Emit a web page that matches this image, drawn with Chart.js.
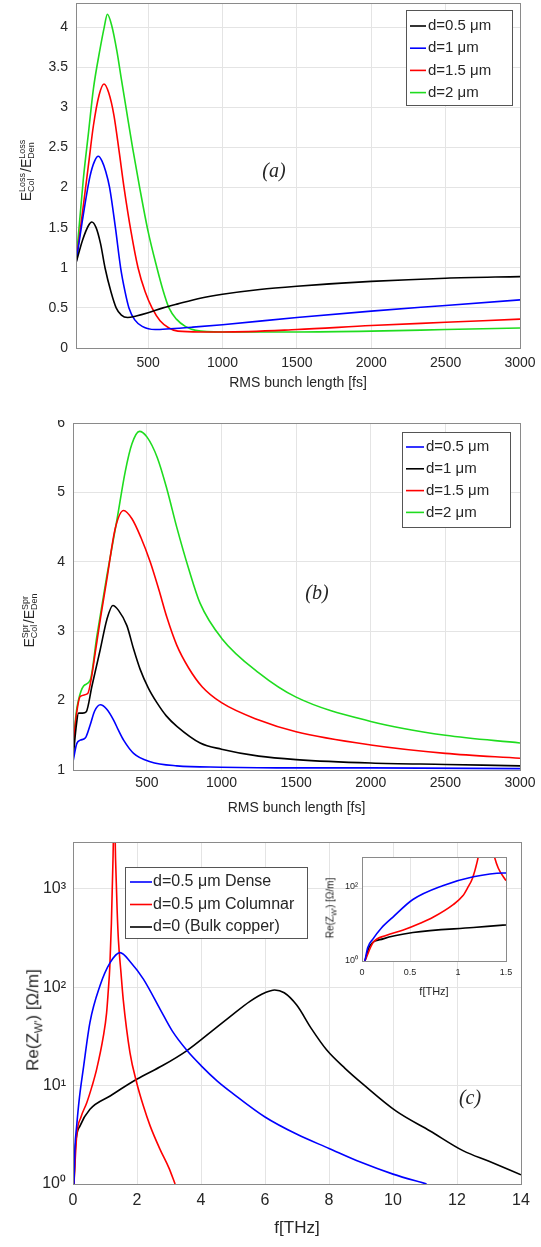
<!DOCTYPE html>
<html>
<head>
<meta charset="utf-8">
<script src="https://cdn.jsdelivr.net/npm/chart.js@4.4.0/dist/chart.umd.min.js"></script>
<style>
  body { margin: 0; background: #fff; width: 541px; height: 1247px; position: relative; overflow: hidden;
         font-family: "Liberation Sans", Arial, sans-serif; color: #262626; }
  canvas { position: absolute; left: 0; }
  .lbl { position: absolute; white-space: nowrap; transform: translate(-50%, -50%); }
  .rot { transform: translate(-50%, -50%) rotate(-90deg); }
  .ss { display: inline-flex; flex-direction: column; vertical-align: middle; font-size: 9px; line-height: 9px; margin-right: 1px; }
  .tag { font-family: "Liberation Serif", "Times New Roman", serif; font-style: italic; font-size: 20px; }
</style>
</head>
<body>
<canvas id="chartA" width="541" height="400" style="top:0"></canvas>
<canvas id="chartB" width="541" height="410" style="top:420px"></canvas>
<canvas id="chartC" width="541" height="417" style="top:830px"></canvas>
<canvas id="chartInset" width="196" height="160" style="left:325px; top:845px"></canvas>

<div class="lbl rot" style="left:27px; top:170px; font-size:14px">E<span class="ss"><span>Loss</span><span>Col</span></span>/E<span class="ss"><span>Loss</span><span>Den</span></span></div>
<div class="lbl rot" style="left:30px; top:620px; font-size:14px">E<span class="ss"><span>Spr</span><span>Col</span></span>/E<span class="ss"><span>Spr</span><span>Den</span></span></div>
<div class="lbl rot" style="left:34px; top:1020px; font-size:17px">Re(Z<sub style="font-size:11px">W'</sub>) [Ω/m]</div>
<div class="lbl rot" style="left:331px; top:908px; font-size:10px">Re(Z<sub style="font-size:7px">W'</sub>) [Ω/m]</div>
<div class="lbl tag" style="left:274px; top:170px">(a)</div>
<div class="lbl tag" style="left:317px; top:592px">(b)</div>
<div class="lbl tag" style="left:470px; top:1097px">(c)</div>

<script>
// ---- panel (a): loss ratio vs RMS bunch length [fs]
const aXTicks = [500, 1000, 1500, 2000, 2500, 3000];
const aYTicks = [0, 0.5, 1, 1.5, 2, 2.5, 3, 3.5, 4];
const aLabels = ['d=0.5 μm', 'd=1 μm', 'd=1.5 μm', 'd=2 μm'];

const aBlackX = [15, 60, 100, 121, 150, 180, 210, 250, 285, 320, 362, 420, 500, 600, 700, 850, 1000, 1250, 1500, 2000, 2500, 3000];
const aBlackY = [1.06, 1.35, 1.53, 1.57, 1.5, 1.3, 1.0, 0.7, 0.5, 0.41, 0.38, 0.4, 0.44, 0.5, 0.55, 0.62, 0.67, 0.73, 0.77, 0.83, 0.87, 0.89];
const aBlueX = [15, 64, 109, 140, 165, 190, 215, 241, 280, 315, 345, 371, 410, 460, 547, 650, 800, 1000, 1500, 2000, 2500, 3000];
const aBlueY = [1.06, 1.66, 2.14, 2.33, 2.39, 2.33, 2.2, 2.0, 1.5, 1.0, 0.7, 0.5, 0.35, 0.27, 0.23, 0.24, 0.26, 0.29, 0.38, 0.46, 0.53, 0.6];
const aRedX = [15, 64, 100, 132, 170, 203, 235, 270, 305, 338, 385, 432, 480, 526, 580, 640, 700, 850, 1000, 1500, 2000, 2500, 3000];
const aRedY = [1.06, 1.77, 2.3, 2.77, 3.15, 3.29, 3.18, 2.9, 2.45, 2.0, 1.45, 1.0, 0.7, 0.5, 0.34, 0.25, 0.21, 0.2, 0.2, 0.23, 0.28, 0.32, 0.36];
const aGreenX = [15, 64, 100, 132, 177, 205, 226, 255, 290, 320, 351, 395, 443, 500, 559, 600, 640, 690, 750, 820, 1000, 1500, 2000, 2500, 3000];
const aGreenY = [1.06, 2.1, 2.7, 3.23, 3.73, 4.0, 4.16, 4.02, 3.7, 3.35, 3.0, 2.5, 2.0, 1.45, 1.0, 0.72, 0.5, 0.36, 0.27, 0.22, 0.2, 0.2, 0.21, 0.23, 0.25];

// ---- panel (b): spread ratio vs RMS bunch length [fs]
const bYTicks = [1, 2, 3, 4, 5, 6];
const bLabels = ['d=0.5 μm', 'd=1 μm', 'd=1.5 μm', 'd=2 μm'];

const bBlueX = [5, 30, 54, 87, 120, 150, 188, 230, 277, 310, 344, 411, 522, 700, 1000, 1500, 2000, 3000];
const bBlueY = [1.12, 1.38, 1.43, 1.46, 1.65, 1.85, 1.94, 1.88, 1.72, 1.57, 1.43, 1.24, 1.12, 1.06, 1.04, 1.03, 1.03, 1.02];
const bBlackX = [5, 25, 42, 70, 94, 132, 188, 232, 272, 310, 366, 410, 455, 510, 567, 630, 701, 857, 1000, 1250, 1500, 2000, 2500, 3000];
const bBlackY = [1.15, 1.6, 1.82, 1.82, 1.84, 2.21, 2.74, 3.17, 3.37, 3.3, 3.08, 2.75, 2.45, 2.18, 1.97, 1.78, 1.63, 1.39, 1.3, 1.2, 1.15, 1.1, 1.08, 1.06];
const bRedX = [5, 25, 54, 103, 130, 154, 190, 232, 288, 344, 400, 460, 522, 580, 634, 700, 780, 870, 1000, 1250, 1500, 2000, 2500, 3000];
const bRedY = [1.3, 1.75, 2.06, 2.1, 2.35, 2.69, 3.2, 3.75, 4.48, 4.74, 4.62, 4.35, 4.0, 3.6, 3.2, 2.8, 2.47, 2.2, 1.97, 1.72, 1.55, 1.36, 1.24, 1.17];
const bGreenX = [5, 25, 42, 76, 121, 165, 232, 299, 355, 400, 450, 500, 570, 634, 700, 780, 857, 1000, 1250, 1500, 2000, 2500, 3000];
const bGreenY = [1.29, 1.8, 2.01, 2.21, 2.3, 2.93, 3.8, 4.6, 5.3, 5.7, 5.88, 5.8, 5.5, 5.05, 4.5, 3.9, 3.4, 2.9, 2.4, 2.05, 1.7, 1.5, 1.39];

// ---- panel (c): Re(Z) vs frequency [THz], log y
const cXTicks = [0, 2, 4, 6, 8, 10, 12, 14];
const cYTicks = [1, 10, 100, 1000];
const cLabels = ['d=0.5 μm Dense', 'd=0.5 μm Columnar', 'd=0 (Bulk copper)'];

const cBlueX = [0.03, 0.06, 0.115, 0.2, 0.32, 0.53, 0.84, 1.16, 1.47, 1.8, 2.2, 2.72, 3.1, 3.55, 4.0, 4.5, 5.0, 6.0, 7.0, 8.0, 9.0, 10.0, 11.05];
const cBlueY = [1, 2.3, 3.9, 7.5, 14.7, 44, 103, 178, 225, 180, 121, 60, 36, 23, 16, 11.2, 8.3, 4.8, 3.2, 2.3, 1.66, 1.26, 1.0];
const cRedX = [0.03, 0.115, 0.25, 0.43, 0.6, 0.74, 0.95, 1.05, 1.1, 1.15, 1.2, 1.25, 1.29, 1.33, 1.38, 1.42, 1.5, 1.57, 1.78, 1.99, 2.2, 2.41, 2.72, 3.0, 3.19];
const cRedY = [1, 3.1, 4.8, 6.7, 10, 14.7, 32, 55, 90, 160, 450, 2000, 8000, 2000, 600, 300, 140, 75, 21.7, 10.7, 6.2, 3.9, 2.25, 1.45, 1.0];
const cBlackX = [0.03, 0.08, 0.22, 0.53, 1.16, 1.99, 2.8, 3.55, 4.3, 4.9, 5.53, 6.0, 6.3, 6.6, 6.99, 7.45, 7.93, 8.5, 9.07, 10.1, 11.16, 12.2, 13.0, 14.0];
const cBlackY = [1, 2.5, 3.9, 5.75, 7.85, 11.6, 16, 22.6, 35, 50, 72, 88, 94, 88, 66, 38, 23, 15, 10.3, 5.5, 3.46, 2.17, 1.7, 1.24];

// inset
const insetXTicks = [0, 0.5, 1, 1.5];
const insetYTicks = [1, 100];

const TXT = '#262626';
const GRID = '#e4e4e4';
const BLACK = '#000000', BLUE = '#0000ff', RED = '#ff0000', GREEN = '#1fdc1f';
const SUP = { 0: '⁰', 1: '¹', 2: '²', 3: '³' };

const pts = (xs, ys) => xs.map((x, i) => ({ x: x, y: ys[i] }));
const line = (label, color, xs, ys) => ({
  label: label, data: pts(xs, ys), borderColor: color, borderWidth: 1.6,
  pointRadius: 0, cubicInterpolationMode: 'monotone', fill: false
});

// box round the plot area (MATLAB "box on"), optional white fill for the inset
const frame = {
  id: 'frame',
  beforeDraw(chart, args, opts) {
    if (!opts.fill) return;
    const a = chart.chartArea;
    chart.ctx.save();
    chart.ctx.fillStyle = '#fff';
    chart.ctx.fillRect(a.left, a.top, a.right - a.left, a.bottom - a.top);
    chart.ctx.restore();
  },
  afterDatasetsDraw(chart) {
    const a = chart.chartArea, ctx = chart.ctx;
    ctx.save();
    ctx.strokeStyle = '#8a8a8a';
    ctx.lineWidth = 1;
    ctx.strokeRect(Math.round(a.left) + 0.5, Math.round(a.top) + 0.5, Math.round(a.right - a.left), Math.round(a.bottom - a.top));
    ctx.restore();
  }
};

// legend box drawn inside the axes, like MATLAB
const boxLegend = {
  id: 'boxLegend',
  afterDatasetsDraw(chart, args, o) {
    if (!o || !o.w) return;
    const ctx = chart.ctx;
    ctx.save();
    ctx.fillStyle = '#fff';
    ctx.fillRect(o.x, o.y, o.w, o.h);
    ctx.strokeStyle = '#555';
    ctx.lineWidth = 1;
    ctx.strokeRect(o.x + 0.5, o.y + 0.5, o.w, o.h);
    ctx.font = o.font;
    ctx.textBaseline = 'middle';
    chart.data.datasets.forEach((ds, i) => {
      const ry = o.y + o.first + i * o.step;
      ctx.strokeStyle = ds.borderColor;
      ctx.lineWidth = 1.6;
      ctx.beginPath();
      ctx.moveTo(o.x + o.line0, ry);
      ctx.lineTo(o.x + o.line1, ry);
      ctx.stroke();
      ctx.fillStyle = TXT;
      ctx.fillText(ds.label, o.x + o.text, ry);
    });
    ctx.restore();
  }
};

const plain = v => String(v);
const logLabel = v => '10' + SUP[Math.round(Math.log10(v))];

function xAxis(min, max, ticks, title, o) {
  return {
    type: 'linear', min: min, max: max,
    afterBuildTicks: s => { s.ticks = ticks.map(v => ({ value: v })); },
    afterFit: s => { s.height = o.h; s.paddingLeft = 0; s.paddingRight = 0; },
    grid: { color: GRID, drawTicks: false },
    border: { display: false },
    ticks: { font: { size: o.tick }, color: TXT, padding: o.pad, autoSkip: false, maxRotation: 0, callback: plain },
    title: { display: true, text: title, color: TXT, font: { size: o.title }, padding: { top: 0, bottom: o.tpad } }
  };
}

function yAxis(type, min, max, ticks, o, fmt) {
  return {
    type: type, min: min, max: max,
    afterBuildTicks: s => { s.ticks = ticks.map(v => ({ value: v })); },
    afterFit: s => { s.width = o.w; s.paddingTop = 0; s.paddingBottom = 0; },
    grid: { color: GRID, drawTicks: false },
    border: { display: false },
    ticks: { font: { size: o.tick }, color: TXT, padding: o.pad, autoSkip: false, callback: fmt || plain }
  };
}

function makeChart(id, datasets, scales, padding, legend, fill) {
  return new Chart(document.getElementById(id), {
    type: 'line',
    data: { datasets: datasets },
    options: {
      responsive: false, animation: false, events: [],
      layout: { padding: padding },
      scales: scales,
      plugins: {
        legend: { display: false }, tooltip: { enabled: false },
        frame: { fill: !!fill }, boxLegend: legend || {}
      }
    },
    plugins: [frame, boxLegend]
  });
}

Chart.defaults.font.family = '"Liberation Sans", Arial, sans-serif';

makeChart('chartA', [
  line(aLabels[0], BLACK, aBlackX, aBlackY),
  line(aLabels[1], BLUE, aBlueX, aBlueY),
  line(aLabels[2], RED, aRedX, aRedY),
  line(aLabels[3], GREEN, aGreenX, aGreenY)
], {
  x: xAxis(15, 3000, aXTicks, 'RMS bunch length [fs]', { h: 52, tick: 14, pad: 7, title: 14, tpad: 8.6 }),
  y: yAxis('linear', 0, 4.3, aYTicks, { w: 76, tick: 14, pad: 8 })
}, { top: 3, right: 21, left: 0, bottom: 0 },
{ x: 406, y: 10, w: 106, h: 95, first: 16, step: 22.2, line0: 4, line1: 20, text: 22, font: '15px "Liberation Sans", Arial, sans-serif' });

makeChart('chartB', [
  line(bLabels[0], BLUE, bBlueX, bBlueY),
  line(bLabels[1], BLACK, bBlackX, bBlackY),
  line(bLabels[2], RED, bRedX, bRedY),
  line(bLabels[3], GREEN, bGreenX, bGreenY)
], {
  x: xAxis(5, 3000, aXTicks, 'RMS bunch length [fs]', { h: 60, tick: 14, pad: 5, title: 14, tpad: 13.6 }),
  y: yAxis('linear', 1, 6, bYTicks, { w: 73, tick: 14, pad: 8 })
}, { top: 3, right: 21, left: 0, bottom: 0 },
{ x: 402, y: 12, w: 108, h: 95, first: 15, step: 21.8, line0: 4, line1: 22, text: 24, font: '15px "Liberation Sans", Arial, sans-serif' });

makeChart('chartC', [
  line(cLabels[0], BLUE, cBlueX, cBlueY),
  line(cLabels[1], RED, cRedX, cRedY),
  line(cLabels[2], BLACK, cBlackX, cBlackY)
], {
  x: xAxis(0, 14, cXTicks, 'f[THz]', { h: 63, tick: 16, pad: 7, title: 17, tpad: 8.8 }),
  y: yAxis('logarithmic', 1, 3000, cYTicks, { w: 73, tick: 16, pad: 7 }, logLabel)
}, { top: 12, right: 20, left: 0, bottom: 0 },
{ x: 125, y: 37, w: 182, h: 71, first: 15, step: 22.5, line0: 5, line1: 27, text: 28, font: '16px "Liberation Sans", Arial, sans-serif' });

makeChart('chartInset', [
  line(cLabels[0], BLUE, cBlueX, cBlueY),
  line(cLabels[1], RED, cRedX, cRedY),
  line(cLabels[2], BLACK, cBlackX, cBlackY)
], {
  x: xAxis(0, 1.5, insetXTicks, 'f[THz]', { h: 44, tick: 9, pad: 6, title: 11, tpad: 6 }),
  y: yAxis('logarithmic', 1, 600, insetYTicks, { w: 37, tick: 9, pad: 4 }, logLabel)
}, { top: 12, right: 15, left: 0, bottom: 0 }, null, true);
</script>
</body>
</html>
